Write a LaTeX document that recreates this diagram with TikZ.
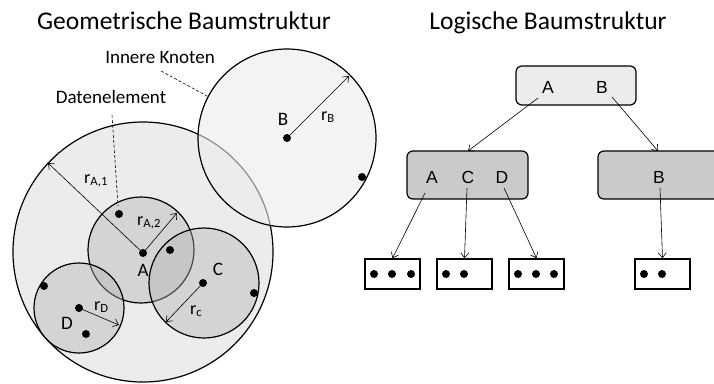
\documentclass[tikz,border=0pt]{standalone}
\usepackage{fontspec}
\setmainfont{Carlito}
\newfontfamily\treefont{Liberation Sans}
\usetikzlibrary{arrows.meta}
\definecolor{lightfill}{HTML}{ECECEC}
\definecolor{midfill}{HTML}{CACACA}
\tikzset{
  bigcirc/.style={draw=black, line width=1.2pt, fill=lightfill},
  smallcirc/.style={draw=black, line width=1.2pt, fill=gray!60, fill opacity=0.4},
  datadot/.style={circle, fill=black, inner sep=0pt, minimum size=8pt},
  radarrow/.style={-{Straight Barb[length=5pt,width=8pt]}, line width=0.6pt},
  leader/.style={dashed, dash pattern=on 3pt off 2pt, line width=0.6pt},
  treebox/.style={draw=black, line width=1.2pt, rounded corners=6pt, inner sep=0pt},
  leafbox/.style={draw=black, line width=1.5pt, fill=white, minimum width=55pt, minimum height=30pt, inner sep=0pt},
  treearrow/.style={-{Straight Barb[length=5pt,width=8pt]}, line width=0.6pt},
  title/.style={font=\fontsize{25.5}{30}\selectfont, anchor=base},
  note/.style={font=\fontsize{19}{22}\selectfont, anchor=base},
  clabel/.style={font=\fontsize{19}{22}\selectfont, anchor=base},
  rlabel/.style={font=\fontsize{18}{22}\selectfont, anchor=base west, inner sep=0pt},
  tlabel/.style={font=\treefont\fontsize{17.5}{20}\selectfont, anchor=base},
}
\begin{document}
\begin{tikzpicture}[x=1pt,y=-1pt]
\useasboundingbox (0,0) rectangle (714,383);
\clip (0,0) rectangle (714,383);
\fill[white] (0,0) rectangle (714,383);

% titles
\node[title] (t1) at (184,29) {Geometrische Baumstruktur};
\node[title] (t2) at (548,29) {Logische Baumstruktur};

% big circles
\draw[bigcirc] (143,252) circle (130);
\draw[draw=black, line width=1.2pt, fill=lightfill, fill opacity=0.6] (287,138) circle (89);

% small circles
\draw[smallcirc] (141,250) circle (53);
\draw[smallcirc] (79,308) circle (45);
\draw[smallcirc] (204,283) circle (55);

% centre dots
\node[datadot] (A) at (143,253) {};
\node[datadot] (B) at (287,138) {};
\node[datadot] (C) at (203,283) {};
\node[datadot] (D) at (79,308) {};
% data elements
\node[datadot] (d1) at (119,214) {};
\node[datadot] (d2) at (170,250) {};
\node[datadot] (d3) at (254,293) {};
\node[datadot] (d4) at (44,286) {};
\node[datadot] (d5) at (86,334) {};
\node[datadot] (d6) at (362,177) {};

% radius arrows
\coordinate (eA1) at (48,163);
\coordinate (eA2) at (177,213);
\coordinate (eB) at (349,76);
\coordinate (eC) at (166,322);
\coordinate (eD) at (119,325);
\draw[radarrow] (A.center) -- (eA1);
\draw[radarrow] (A.center) -- (eA2);
\draw[radarrow] (B.center) -- (eB);
\draw[radarrow] (C.center) -- (eC);
\draw[radarrow] (D.center) -- (eD);

% circle labels
\node[clabel] (lA) at (143,276) {A};
\node[clabel] (lB) at (283,125) {B};
\node[clabel] (lC) at (218,275) {C};
\node[clabel] (lD) at (67,329) {D};

\node[rlabel] (rA1) at (84,183) {r\textsubscript{A,1}};
\node[rlabel] (rA2) at (137,225) {r\textsubscript{A,2}};
\node[rlabel] (rB) at (321,120) {r\textsubscript{B}};
\node[rlabel] (rC) at (190,314) {r\textsubscript{c}};
\node[rlabel] (rD) at (94,310) {r\textsubscript{D}};

% annotations
\node[note] (inn) at (160,63) {Innere Knoten};
\node[note] (dat) at (111,103) {Datenelement};
\coordinate (innS) at (161,71);
\coordinate (innE) at (207,96);
\coordinate (datS) at (112,115);
\coordinate (datE) at (118,206);
\draw[leader] (innS) -- (innE);
\draw[leader] (datS) -- (datE);

% logical tree
\draw[treebox, fill=lightfill] (516,66) rectangle (636,105);
\draw[treebox, fill=midfill] (407,151) rectangle (528,199);
\draw[treebox, fill=midfill] (598,151) rectangle (740,199);
\node[tlabel] (rtA) at (548,93) {A};
\node[tlabel] (rtB) at (602,93) {B};
\node[tlabel] (iA) at (432,183) {A};
\node[tlabel] (iC) at (468,183) {C};
\node[tlabel] (iD) at (502,183) {D};
\node[tlabel] (iB) at (659,183) {B};

\node[leafbox] (L1) at (392.5,274) {};
\node[leafbox] (L2) at (464.5,274) {};
\node[leafbox] (L3) at (536.5,274) {};
\node[leafbox] (L4) at (662.5,274) {};
\foreach \x in {374,392,411,446,464,518,536,554,644,662}
  \fill (\x,274) circle (4);

\coordinate (s1) at (538,98);
\coordinate (t1e) at (468,151);
\coordinate (s2) at (612,97);
\coordinate (t2e) at (658,151);
\coordinate (s3) at (425,193);
\coordinate (s4) at (467,188);
\coordinate (s5) at (504,188);
\coordinate (s6) at (660,188);
\draw[treearrow] (s1) -- (t1e);
\draw[treearrow] (s2) -- (t2e);
\draw[treearrow] (s3) -- (L1.north);
\draw[treearrow] (s4) -- (L2.north);
\draw[treearrow] (s5) -- (L3.north);
\draw[treearrow] (s6) -- (L4.north);
\end{tikzpicture}
\end{document}
